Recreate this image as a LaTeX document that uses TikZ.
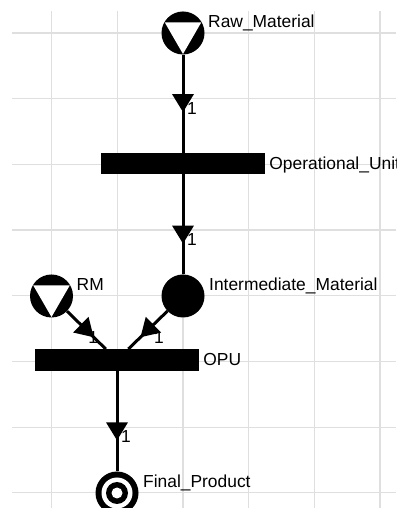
\documentclass[tikz,border=0pt]{standalone}
\usepackage{fontspec}
\setmainfont{Liberation Sans}
\usetikzlibrary{shapes.geometric, positioning}
\tikzset{
  matplace/.style={
    circle, fill=black, minimum size=43pt, inner sep=0pt
  },
  srcplace/.style={
    matplace,
    path picture={
      \fill[white] ([shift={(150:21)}]path picture bounding box.center)
        -- ([shift={(30:21)}]path picture bounding box.center)
        -- ([shift={(270:21)}]path picture bounding box.center) -- cycle;
    }
  },
  finalplace/.style={
    circle, fill=black, minimum size=43pt, inner sep=0pt,
    path picture={
      \fill[white] (path picture bounding box.center) circle[radius=15.5pt];
      \fill[black] (path picture bounding box.center) circle[radius=11pt];
      \fill[white] (path picture bounding box.center) circle[radius=5.5pt];
    }
  },
  transbar/.style={
    rectangle, fill=black, inner sep=0pt,
    minimum width=164pt, minimum height=21.5pt
  },
  lbl/.style={
    anchor=base west, inner sep=0pt, font=\fontsize{17.4}{20}\selectfont
  },
  flow/.style={line width=3pt},
  wtip/.style={
    isosceles triangle, isosceles triangle stretches, fill=black,
    inner sep=0pt, minimum height=18pt, minimum width=22pt,
    sloped, allow upside down, pos=0.515
  },
  wlbl/.style={lbl, pos=0.5, xshift=4pt, yshift=-16pt},
  gridline/.style={gray!25, line width=1.2pt},
}
\begin{document}
\begin{tikzpicture}[x=1pt, y=1pt, on grid]

  \path[use as bounding box, clip] (0,0) rectangle (396,508);

  % ── grid ──────────────────────────────────────────────────────────────────
  \foreach \gx in {0,...,5}
    \draw[gridline] ({51.5+65.7*\gx},0) -- ({51.5+65.7*\gx},497);
  \foreach \gy in {0,...,7}
    \draw[gridline] (12,{475-65.7*\gy}) -- (396,{475-65.7*\gy});

  % ── nodes ─────────────────────────────────────────────────────────────────
  \node[srcplace]   (rawmat)   at (183,475) {};
  \node[transbar,   below=130.5pt of rawmat]  (opunit)   {};
  \node[matplace,   below=132.5pt of opunit]  (intermat) {};
  \node[srcplace,   left=131.5pt of intermat] (rm)       {};
  \node[transbar,   below left=64pt and 66pt of intermat] (opu) {};
  \node[finalplace, below=133pt of opu]       (final)    {};

  % labels
  \node[lbl] (rawmat-lbl)   at ([shift={(25,5.5)}]rawmat.center)   {Raw\_Material};
  \node[lbl] (opunit-lbl)   at ([shift={(4,-6)}]opunit.east)       {Operational\_Unit};
  \node[lbl] (intermat-lbl) at ([shift={(26,5.5)}]intermat.center) {Intermediate\_Material};
  \node[lbl] (rm-lbl)       at ([shift={(25,5.5)}]rm.center)       {RM};
  \node[lbl] (opu-lbl)      at ([shift={(4,-6)}]opu.east)          {OPU};
  \node[lbl] (final-lbl)    at ([shift={(26,5.5)}]final.center)    {Final\_Product};

  % ── edges ─────────────────────────────────────────────────────────────────
  \draw[flow] (rawmat)   -- (opunit);
  \draw[flow] (opunit)   -- (intermat);
  \draw[flow] (rm)       -- (opu);
  \draw[flow] (intermat) -- (opu);
  \draw[flow] (opu)      -- (final);

  % weights
  \path (rawmat.center)   -- node[wlbl]{1} node[wtip]{} (opunit.center);
  \path (opunit.center)   -- node[wlbl]{1} node[wtip]{} (intermat.center);
  \path (rm.center)       -- node[wlbl]{1} node[wtip]{} (opu.center);
  \path (intermat.center) -- node[wlbl]{1} node[wtip]{} (opu.center);
  \path (opu.center)      -- node[wlbl]{1} node[wtip]{} (final.center);

\end{tikzpicture}
\end{document}
